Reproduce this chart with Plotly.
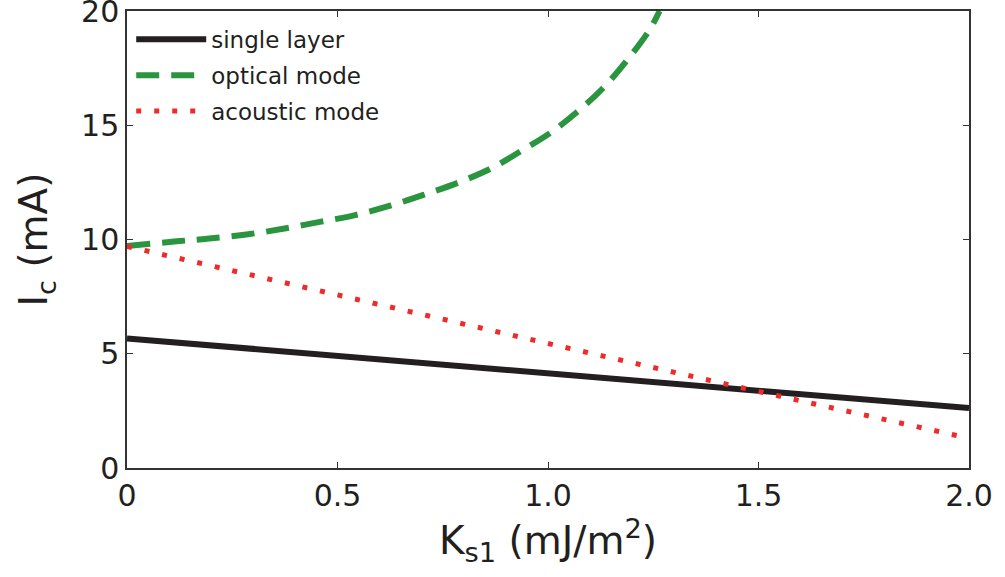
import plotly.graph_objects as go

# Data
ks_single = [0.0, 0.5, 1.0, 1.5, 2.0]
ic_single = [5.67, 4.90, 4.14, 3.38, 2.62]

ks_optical = [0.0, 0.118, 0.201, 0.288, 0.371, 0.458, 0.542, 0.625, 0.704, 0.787,
              0.866, 0.933, 1.005, 1.069, 1.131, 1.188, 1.242, 1.265]
ic_optical = [9.72, 9.92, 10.05, 10.23, 10.47, 10.77, 11.07, 11.48, 11.95, 12.49,
              13.12, 13.84, 14.66, 15.58, 16.63, 17.85, 19.2, 20.0]

ks_acoustic = [0.0, 0.5, 1.0, 1.5, 2.0]
ic_acoustic = [9.7, 7.55, 5.45, 3.35, 1.3]

names = ["single layer", "optical mode", "acoustic mode"]
x_ticks = [0, 0.5, 1.0, 1.5, 2.0]
x_ticklabels = ["0", "0.5", "1.0", "1.5", "2.0"]
y_ticks = [0, 5, 10, 15, 20]

FONT = "DejaVu Sans, sans-serif"
TXT = "#231f20"

fig = go.Figure()
fig.add_trace(go.Scatter(x=ks_single, y=ic_single, mode="lines", name=names[0],
                         legendgroup="a",
                         line=dict(color=TXT, width=6)))
fig.add_trace(go.Scatter(x=ks_optical, y=ic_optical, mode="lines", name=names[1],
                         legendgroup="b", line_shape="spline",
                         line=dict(color="#2a953e", width=6, dash="23px,12px")))
fig.add_trace(go.Scatter(x=ks_acoustic, y=ic_acoustic, mode="lines", name=names[2],
                         legendgroup="c",
                         line=dict(color="#ee2a2a", width=5, dash="5px,13px")))

axis_common = dict(
    showgrid=False, zeroline=False, showline=True, linecolor="#333333", linewidth=1.5,
    mirror="ticks", ticks="inside", ticklen=6, tickwidth=1.2, tickcolor="#333333",
    tickfont=dict(family=FONT, size=30, color=TXT),
    ticklabeloverflow="allow", automargin=False,
)

fig.update_layout(
    width=1005, height=577,
    margin=dict(l=127, r=36, t=11, b=109),
    paper_bgcolor="white", plot_bgcolor="white",
    font=dict(family=FONT, color=TXT),
    xaxis=dict(range=[0, 2.0], tickvals=x_ticks, ticktext=x_ticklabels,
               title=dict(text="K<sub>s1</sub> (mJ/m<sup>2</sup>)",
                          font=dict(family=FONT, size=39), standoff=13),
               **axis_common),
    yaxis=dict(range=[0, 20.0001], tickvals=y_ticks,
               title=dict(text="I<sub>c</sub> (mA)",
                          font=dict(family=FONT, size=39), standoff=21),
               **axis_common),
    legend=dict(x=0.005, y=0.985, xanchor="left", yanchor="top",
                bgcolor="rgba(0,0,0,0)", tracegroupgap=3, itemwidth=70,
                font=dict(family=FONT, size=23, color=TXT)),
    showlegend=True,
)

post = ("document.body.style.margin='0';"
        "document.querySelectorAll('svg').forEach(function(s){s.style.overflow='visible';});")
fig.write_html("out.html", post_script=post, config={"displayModeBar": False})
